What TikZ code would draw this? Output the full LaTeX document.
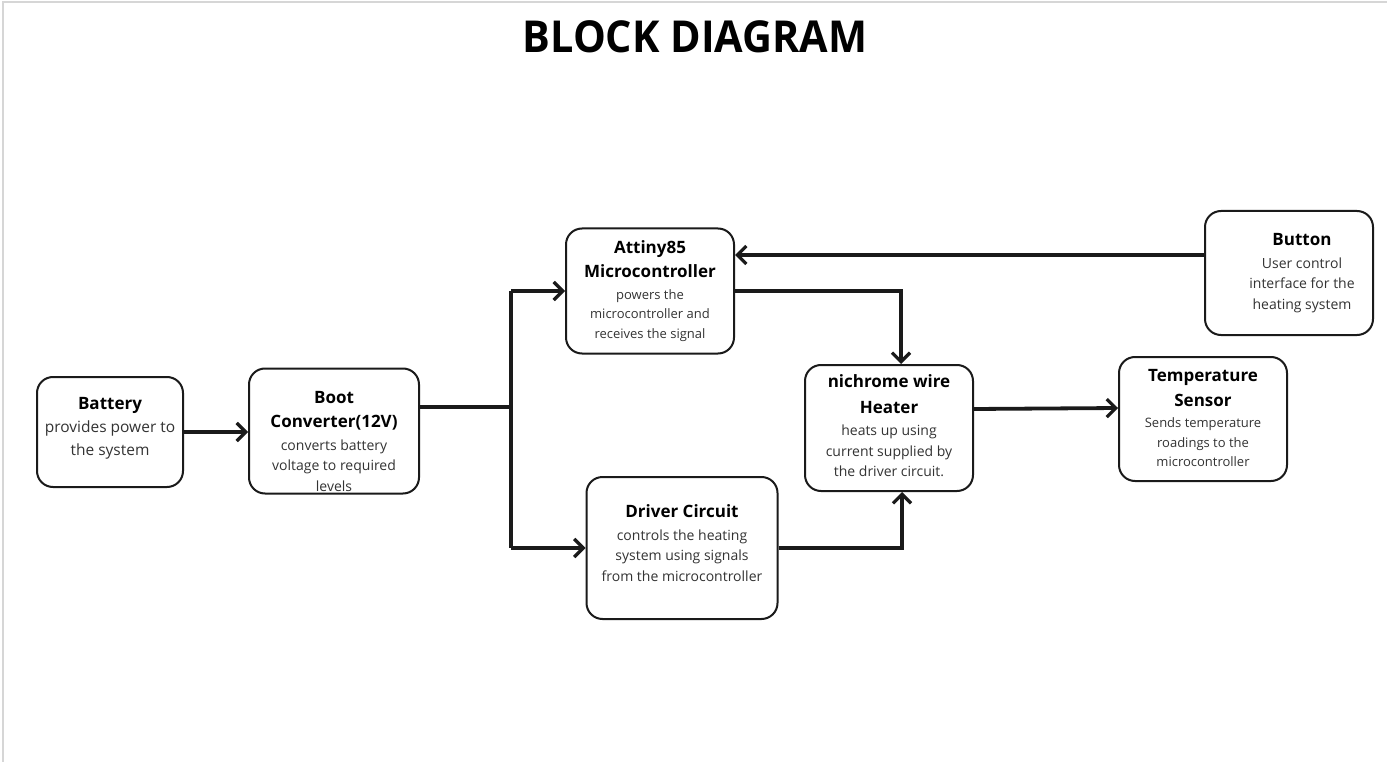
\documentclass[tikz,border=0pt]{standalone}
\usepackage{fontspec}
\setmainfont{Open Sans}
\usetikzlibrary{arrows.meta}
\definecolor{ink}{HTML}{1A1A1A}
\definecolor{note}{HTML}{333333}
\definecolor{frame}{HTML}{D6D6D6}
\newcommand{\fs}[2]{\fontsize{#1}{#2}\selectfont}
\newcommand{\hd}[1]{{\color{black}\bfseries\fs{17}{25}#1}}

\begin{document}
\begin{tikzpicture}[x=1pt,y=-1pt,
	blk/.style={draw=ink,line width=2pt,rounded corners=16pt},
	txt/.style={align=center,inner sep=0pt,text=note,font=\fs{14}{20.5}},
	wire/.style={draw=ink,line width=3.8pt},
	arr/.style={wire,-{Straight Barb[length=9pt,width=18pt,line width=3.2pt]}}]
		\useasboundingbox (0,0) rectangle (1387,762);
		\fill[white] (0,0) rectangle (1387,762);
		\draw[frame,line width=2pt] (3,762) -- (3,2) -- (1387,2);
		
		\node[font=\bfseries\fs{44}{50}] (title) at (695,37) {\scalebox{0.94}[1]{BLOCK DIAGRAM}};
		
		% blocks
		\node[blk,minimum width=146,minimum height=110] (bat) at (110,432) {};
		\node[txt,font=\fs{15.5}{23}] (battxt) at (110,428) {\hd{Battery}\\provides power to\\the system};
		\node[blk,minimum width=170,minimum height=125] (boot) at (334,431) {};
		\node[txt] (boottxt) at (334,441) {\hd{Boot}\\[4pt]\hd{Converter(12V)}\\[2pt]converts battery\\voltage to required\\levels};
		\node[blk,minimum width=168,minimum height=125] (mcu) at (650,291) {};
		\node[txt,font=\fs{13}{19.5}] (mcutxt) at (650,291) {\hd{Attiny85}\\[5pt]\hd{Microcontroller}\\[2pt]powers the\\microcontroller and\\receives the signal};
		\node[blk,minimum width=191,minimum height=142] (drv) at (682,548) {};
		\node[txt] (drvtxt) at (682,543) {\hd{Driver Circuit}\\[2pt]controls the heating\\system using signals\\from the microcontroller};
		\node[blk,minimum width=168,minimum height=126] (heat) at (889,428) {};
		\node[txt] (heattxt) at (889,426) {\hd{nichrome wire}\\[5pt]\hd{Heater}\\[2pt]heats up using\\current supplied by\\the driver circuit.};
		\node[blk,minimum width=168,minimum height=124] (temp) at (1203,419) {};
		\node[txt,font=\fs{13}{19.5}] (temptxt) at (1203,418) {\hd{Temperature}\\[5pt]\hd{Sensor}\\[2pt]Sends temperature\\roadings to the\\microcontroller};
		\node[blk,minimum width=168,minimum height=124] (btn) at (1289,273) {};
		\node[txt] (btntxt) at (1302,273) {\hd{Button}\\[2pt]User control\\interface for the\\heating system};
		
		% connectors
		\coordinate (split) at (511,407);
		\draw[arr] (bat.east) -- (bat.east -| boot.west);
		\draw[wire] ([yshift=24pt]boot.east) -- (split);
		\draw[wire] (split |- mcu.west) -- (split |- drv.west);
		\draw[arr] (split |- mcu.west) -- (mcu.west);
		\draw[arr] (split |- drv.west) -- (drv.west);
		\draw[arr] (mcu.east) -| ([xshift=12pt]heat.north);
		\draw[arr] (drv.east) -| ([xshift=13pt]heat.south);
		\draw[arr] ([yshift=19pt]heat.east) -- ([yshift=11pt]temp.west);
		\draw[arr] ([yshift=18pt]btn.west) -- ([yshift=36pt]mcu.east);
		
\end{tikzpicture}
\end{document}
